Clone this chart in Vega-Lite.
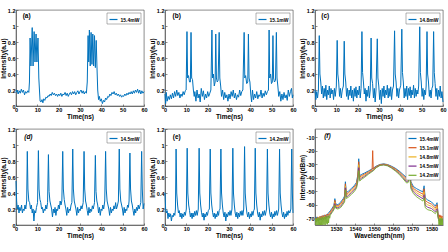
{
"$schema":"https://vega.github.io/schema/vega-lite/v6.json",
"background":"white",
"padding":{"left":0,"top":7,"right":0,"bottom":0},
"columns":3,
"spacing":{"row":5,"column":1},
"resolve":{"scale":{"color":"independent","x":"independent","y":"independent"},"legend":{"color":"independent"}},
"config":{
 "font":"Liberation Sans",
 "view":{"stroke":"#404040","strokeWidth":0.6},
 "axis":{"grid":false,"labelFont":"Liberation Sans","labelFontSize":5.5,"labelFontWeight":"bold","labelColor":"#000","titleFont":"Liberation Sans","titleFontSize":6.5,"titleFontWeight":"bold","titleColor":"#000","domainColor":"#404040","domainWidth":0.6,"tickColor":"#404040","tickWidth":0.6,"tickSize":-2,"labelPadding":3,"titlePadding":1,"labelFlush":false,"labelOverlap":false},
 "legend":{"orient":"top-right","offset":3,"padding":1.5,"strokeColor":"#666","strokeWidth":0.5,"fillColor":"#fff","labelFont":"Liberation Sans","labelFontSize":5,"labelFontWeight":"bold","labelColor":"#000","symbolType":"stroke","symbolStrokeWidth":1.2,"symbolSize":64,"rowPadding":1.2,"labelOffset":2,"labelLimit":100},
 "text":{"color":"#000"}
},
"concat":[
 {"width":128,"height":96,
  "encoding":{
   "x":{"field":"t","type":"quantitative","scale":{"domain":[0,60],"nice":false},"axis":{"values":[0,10,20,30,40,50,60],"title":"Time(ns)"}},
   "y":{"field":"v","type":"quantitative","scale":{"domain":[0,1.2],"nice":false},"axis":{"values":[0,0.2,0.4,0.6,0.8,1,1.2],"format":"~g","title":"Intensity(a.u)"}}},
  "layer":[
  {"data":{"name":"a"},"mark":{"type":"line","strokeWidth":1},"encoding":{"color":{"datum":"15.4mW","scale":{"range":["#0072BD"]},"legend":{"title":null}}}},
  {"data":{"values":[{"t":5,"v":1.13,"label":"(a)"}]},"mark":{"type":"text","fontWeight":"bold","fontSize":6.5},"encoding":{"text":{"field":"label"}}}
 ]},
 {"width":128,"height":96,
  "encoding":{
   "x":{"field":"t","type":"quantitative","scale":{"domain":[0,60],"nice":false},"axis":{"values":[0,10,20,30,40,50,60],"title":"Time(ns)"}},
   "y":{"field":"v","type":"quantitative","scale":{"domain":[0,1.2],"nice":false},"axis":{"values":[0,0.2,0.4,0.6,0.8,1,1.2],"format":"~g","title":"Intensity(a.u)"}}},
  "layer":[
  {"data":{"name":"b"},"mark":{"type":"line","strokeWidth":1},"encoding":{"color":{"datum":"15.1mW","scale":{"range":["#0072BD"]},"legend":{"title":null}}}},
  {"data":{"values":[{"t":5.5,"v":1.13,"label":"(b)"}]},"mark":{"type":"text","fontWeight":"bold","fontSize":6.5},"encoding":{"text":{"field":"label"}}}
 ]},
 {"width":128,"height":96,
  "encoding":{
   "x":{"field":"t","type":"quantitative","scale":{"domain":[0,60],"nice":false},"axis":{"values":[0,10,20,30,40,50,60],"title":"Time(ns)"}},
   "y":{"field":"v","type":"quantitative","scale":{"domain":[0,1.2],"nice":false},"axis":{"values":[0,0.2,0.4,0.6,0.8,1,1.2],"format":"~g","title":"Intensity(a.u)"}}},
  "layer":[
  {"data":{"name":"c"},"mark":{"type":"line","strokeWidth":1},"encoding":{"color":{"datum":"14.8mW","scale":{"range":["#0072BD"]},"legend":{"title":null}}}},
  {"data":{"values":[{"t":4.8,"v":1.13,"label":"(c)"}]},"mark":{"type":"text","fontWeight":"bold","fontSize":6.5},"encoding":{"text":{"field":"label"}}}
 ]},
 {"width":128,"height":96,
  "encoding":{
   "x":{"field":"t","type":"quantitative","scale":{"domain":[0,60],"nice":false},"axis":{"values":[0,10,20,30,40,50,60],"title":"Time(ns)"}},
   "y":{"field":"v","type":"quantitative","scale":{"domain":[0,1.2],"nice":false},"axis":{"values":[0,0.2,0.4,0.6,0.8,1,1.2],"format":"~g","title":"Intensity(a.u)"}}},
  "layer":[
  {"data":{"name":"d"},"mark":{"type":"line","strokeWidth":1},"encoding":{"color":{"datum":"14.5mW","scale":{"range":["#0072BD"]},"legend":{"title":null}}}},
  {"data":{"values":[{"t":5.8,"v":1.1,"label":"(d)"}]},"mark":{"type":"text","fontWeight":"bold","fontStyle":"italic","fontSize":6.5},"encoding":{"text":{"field":"label"}}}
 ]},
 {"width":128,"height":96,
  "encoding":{
   "x":{"field":"t","type":"quantitative","scale":{"domain":[0,60],"nice":false},"axis":{"values":[0,10,20,30,40,50,60],"title":"Time(ns)"}},
   "y":{"field":"v","type":"quantitative","scale":{"domain":[0,1.2],"nice":false},"axis":{"values":[0,0.2,0.4,0.6,0.8,1,1.2],"format":"~g","title":"Intensity(a.u)"}}},
  "layer":[
  {"data":{"name":"e"},"mark":{"type":"line","strokeWidth":1},"encoding":{"color":{"datum":"14.2mW","scale":{"range":["#0072BD"]},"legend":{"title":null}}}},
  {"data":{"values":[{"t":5.5,"v":1.1,"label":"(e)"}]},"mark":{"type":"text","fontWeight":"bold","fontSize":6.5},"encoding":{"text":{"field":"label"}}}
 ]},
 {"width":128,"height":96,
  "encoding":{
   "x":{"field":"w","type":"quantitative","scale":{"domain":[1519,1586],"nice":false,"zero":false},"axis":{"values":[1530,1540,1550,1560,1570,1580],"format":"d","title":"Wavelength(nm)"}},
   "y":{"field":"p","type":"quantitative","scale":{"domain":[-75,-4],"nice":false,"zero":false},"axis":{"values":[-70,-60,-50,-40,-30,-20,-10],"labelExpr":"datum.value + ''","title":"Intensity(dBm)"}}},
  "layer":[
  {"data":{"name":"f"},"mark":{"type":"line","strokeWidth":0.9,"clip":true},"encoding":{
   "color":{"field":"s","type":"nominal","sort":null,"scale":{"domain":["15.4mW","15.1mW","14.8mW","14.5mW","14.2mW"],"range":["#0072BD","#D95319","#EDB120","#7E2F8E","#77AC30"]},"legend":{"title":null}}}},
  {"data":{"values":[{"w":1525.5,"p":-9,"label":"(f)"}]},"mark":{"type":"text","fontWeight":"bold","fontStyle":"italic","fontSize":6.5},"encoding":{"text":{"field":"label"}}}
 ]}
],
"datasets":{
"a":[{"t":0,"v":0.17},{"t":0.5,"v":0.2},{"t":1,"v":0.15},{"t":1.5,"v":0.19},{"t":2,"v":0.16},{"t":2.5,"v":0.21},{"t":3,"v":0.17},{"t":3.5,"v":0.2},{"t":4,"v":0.14},{"t":4.5,"v":0.18},{"t":5,"v":0.16},{"t":5.5,"v":0.19},{"t":6,"v":0.17},{"t":6.3,"v":0.3},{"t":6.6,"v":0.85},{"t":7.0,"v":0.5},{"t":7.6,"v":0.98},{"t":8.0,"v":0.5},{"t":8.5,"v":0.93},{"t":8.9,"v":0.55},{"t":9.4,"v":0.9},{"t":9.8,"v":0.55},{"t":10.3,"v":0.85},{"t":10.7,"v":0.35},{"t":11.0,"v":0.2},{"t":11.3,"v":0.06},{"t":11.7,"v":0.05},{"t":12.2,"v":0.08},{"t":12.6,"v":0.04},{"t":13,"v":0.09},{"t":13.5,"v":0.07},{"t":14,"v":0.11},{"t":14.5,"v":0.1},{"t":15,"v":0.13},{"t":15.5,"v":0.12},{"t":16,"v":0.15},{"t":16.5,"v":0.13},{"t":17,"v":0.17},{"t":17.5,"v":0.14},{"t":18,"v":0.16},{"t":18.5,"v":0.13},{"t":19,"v":0.15},{"t":19.5,"v":0.12},{"t":20,"v":0.15},{"t":20.5,"v":0.13},{"t":21,"v":0.16},{"t":21.5,"v":0.12},{"t":22,"v":0.15},{"t":22.5,"v":0.14},{"t":23,"v":0.17},{"t":23.5,"v":0.13},{"t":24,"v":0.16},{"t":24.5,"v":0.12},{"t":25,"v":0.15},{"t":25.5,"v":0.17},{"t":26,"v":0.14},{"t":26.5,"v":0.18},{"t":27,"v":0.15},{"t":27.5,"v":0.18},{"t":28,"v":0.14},{"t":28.5,"v":0.17},{"t":29,"v":0.19},{"t":29.5,"v":0.15},{"t":30,"v":0.18},{"t":30.5,"v":0.2},{"t":31,"v":0.16},{"t":31.5,"v":0.19},{"t":32,"v":0.15},{"t":32.5,"v":0.18},{"t":33,"v":0.16},{"t":33.4,"v":0.3},{"t":33.8,"v":0.88},{"t":34.1,"v":0.55},{"t":34.4,"v":0.95},{"t":34.8,"v":0.5},{"t":35.2,"v":0.92},{"t":35.6,"v":0.52},{"t":36.0,"v":0.9},{"t":36.4,"v":0.5},{"t":36.8,"v":0.88},{"t":37.2,"v":0.48},{"t":37.6,"v":0.82},{"t":38.0,"v":0.45},{"t":38.3,"v":0.2},{"t":38.7,"v":0.08},{"t":39.1,"v":0.12},{"t":39.5,"v":0.06},{"t":40,"v":0.09},{"t":40.5,"v":0.03},{"t":41,"v":0.07},{"t":41.5,"v":0.05},{"t":42,"v":0.1},{"t":42.5,"v":0.08},{"t":43,"v":0.12},{"t":43.5,"v":0.11},{"t":44,"v":0.15},{"t":44.5,"v":0.13},{"t":45,"v":0.17},{"t":45.5,"v":0.15},{"t":46,"v":0.18},{"t":46.5,"v":0.14},{"t":47,"v":0.16},{"t":47.5,"v":0.13},{"t":48,"v":0.15},{"t":48.5,"v":0.12},{"t":49,"v":0.14},{"t":49.5,"v":0.11},{"t":50,"v":0.13},{"t":50.5,"v":0.12},{"t":51,"v":0.15},{"t":51.5,"v":0.13},{"t":52,"v":0.16},{"t":52.5,"v":0.14},{"t":53,"v":0.17},{"t":53.5,"v":0.15},{"t":54,"v":0.18},{"t":54.5,"v":0.15},{"t":55,"v":0.19},{"t":55.5,"v":0.16},{"t":56,"v":0.2},{"t":56.5,"v":0.17},{"t":57,"v":0.21},{"t":57.5,"v":0.16},{"t":58,"v":0.2},{"t":58.5,"v":0.15},{"t":59,"v":0.19},{"t":59.5,"v":0.16},{"t":60,"v":0.18}],
"b":[{"t":0,"v":0.15},{"t":0.3,"v":0.03},{"t":0.6,"v":0.17},{"t":1.0,"v":0.06},{"t":1.5,"v":0.12},{"t":2,"v":0.08},{"t":2.5,"v":0.14},{"t":3,"v":0.09},{"t":3.5,"v":0.16},{"t":4,"v":0.1},{"t":4.5,"v":0.18},{"t":5,"v":0.12},{"t":5.5,"v":0.2},{"t":6,"v":0.13},{"t":6.5,"v":0.17},{"t":7,"v":0.1},{"t":7.5,"v":0.15},{"t":8,"v":0.12},{"t":8.5,"v":0.18},{"t":9,"v":0.14},{"t":9.5,"v":0.19},{"t":9.9,"v":0.2},{"t":10.3,"v":0.93},{"t":10.6,"v":0.35},{"t":11.0,"v":0.38},{"t":11.5,"v":0.3},{"t":11.9,"v":0.3},{"t":12.2,"v":0.92},{"t":12.5,"v":0.35},{"t":12.9,"v":0.33},{"t":13.3,"v":0.2},{"t":13.7,"v":0.12},{"t":14,"v":0.18},{"t":14.5,"v":0.06},{"t":15,"v":0.2},{"t":15.5,"v":0.1},{"t":16,"v":0.15},{"t":16.5,"v":0.05},{"t":17,"v":0.22},{"t":17.5,"v":0.12},{"t":18,"v":0.19},{"t":18.5,"v":0.08},{"t":19,"v":0.15},{"t":19.5,"v":0.1},{"t":20,"v":0.18},{"t":20.5,"v":0.12},{"t":21,"v":0.16},{"t":21.5,"v":0.2},{"t":22.0,"v":0.95},{"t":22.3,"v":0.35},{"t":22.7,"v":0.4},{"t":23.1,"v":0.25},{"t":23.5,"v":0.3},{"t":23.8,"v":0.9},{"t":24.1,"v":0.35},{"t":24.5,"v":0.3},{"t":24.9,"v":0.32},{"t":25.4,"v":0.92},{"t":25.7,"v":0.35},{"t":26.1,"v":0.25},{"t":26.5,"v":0.12},{"t":27,"v":0.2},{"t":27.5,"v":0.08},{"t":28,"v":0.17},{"t":28.5,"v":0.1},{"t":29,"v":0.14},{"t":29.5,"v":0.06},{"t":30,"v":0.15},{"t":30.5,"v":0.09},{"t":31,"v":0.18},{"t":31.5,"v":0.12},{"t":32,"v":0.2},{"t":32.5,"v":0.1},{"t":33,"v":0.16},{"t":33.5,"v":0.08},{"t":34,"v":0.14},{"t":34.5,"v":0.11},{"t":35,"v":0.2},{"t":35.5,"v":0.13},{"t":36,"v":0.18},{"t":36.5,"v":0.2},{"t":37.1,"v":0.92},{"t":37.4,"v":0.35},{"t":37.8,"v":0.38},{"t":38.3,"v":0.28},{"t":38.8,"v":0.3},{"t":39.1,"v":0.9},{"t":39.4,"v":0.35},{"t":39.8,"v":0.3},{"t":40.2,"v":0.15},{"t":40.6,"v":0.05},{"t":41,"v":0.2},{"t":41.5,"v":0.08},{"t":42,"v":0.15},{"t":42.5,"v":0.1},{"t":43,"v":0.18},{"t":43.5,"v":0.09},{"t":44,"v":0.14},{"t":44.5,"v":0.12},{"t":45,"v":0.2},{"t":45.5,"v":0.1},{"t":46,"v":0.16},{"t":46.5,"v":0.12},{"t":47,"v":0.19},{"t":47.5,"v":0.14},{"t":48,"v":0.18},{"t":48.5,"v":0.2},{"t":48.8,"v":0.95},{"t":49.1,"v":0.35},{"t":49.5,"v":0.4},{"t":49.9,"v":0.28},{"t":50.3,"v":0.3},{"t":50.6,"v":0.88},{"t":50.9,"v":0.35},{"t":51.3,"v":0.3},{"t":51.8,"v":0.32},{"t":52.2,"v":0.92},{"t":52.5,"v":0.35},{"t":52.9,"v":0.25},{"t":53.3,"v":0.12},{"t":53.8,"v":0.18},{"t":54.3,"v":0.06},{"t":54.8,"v":0.15},{"t":55.3,"v":0.08},{"t":55.8,"v":0.17},{"t":56.3,"v":0.1},{"t":56.8,"v":0.14},{"t":57.3,"v":0.07},{"t":57.8,"v":0.2},{"t":58.3,"v":0.12},{"t":58.8,"v":0.18},{"t":59.3,"v":0.22},{"t":59.7,"v":0.1},{"t":60,"v":0.14}],
"c":[{"t":0,"v":0.2},{"t":0.4,"v":0.08},{"t":0.8,"v":0.18},{"t":1.2,"v":0.1},{"t":1.6,"v":0.2},{"t":2.0,"v":0.88},{"t":2.3,"v":0.4},{"t":2.7,"v":0.3},{"t":3.1,"v":0.15},{"t":3.5,"v":0.25},{"t":3.9,"v":0.1},{"t":4.3,"v":0.22},{"t":4.7,"v":0.12},{"t":5.1,"v":0.26},{"t":5.5,"v":0.08},{"t":5.9,"v":0.2},{"t":6.3,"v":0.14},{"t":6.7,"v":0.25},{"t":7.1,"v":0.1},{"t":7.5,"v":0.22},{"t":7.9,"v":0.15},{"t":8.3,"v":0.2},{"t":8.7,"v":0.08},{"t":9.1,"v":0.22},{"t":9.5,"v":0.12},{"t":10.0,"v":0.25},{"t":10.4,"v":0.82},{"t":10.7,"v":0.4},{"t":11.1,"v":0.3},{"t":11.5,"v":0.12},{"t":11.9,"v":0.22},{"t":12.3,"v":0.1},{"t":12.8,"v":0.2},{"t":13.3,"v":0.25},{"t":13.7,"v":0.81},{"t":14.0,"v":0.4},{"t":14.4,"v":0.3},{"t":14.8,"v":0.12},{"t":15.2,"v":0.22},{"t":15.6,"v":0.08},{"t":16.0,"v":0.2},{"t":16.4,"v":0.13},{"t":16.8,"v":0.25},{"t":17.2,"v":0.1},{"t":17.6,"v":0.2},{"t":18.0,"v":0.06},{"t":18.4,"v":0.22},{"t":18.8,"v":0.12},{"t":19.2,"v":0.24},{"t":19.6,"v":0.1},{"t":20.0,"v":0.2},{"t":20.4,"v":0.14},{"t":20.8,"v":0.25},{"t":21.2,"v":0.1},{"t":21.6,"v":0.22},{"t":22.0,"v":0.93},{"t":22.3,"v":0.42},{"t":22.7,"v":0.3},{"t":23.1,"v":0.15},{"t":23.5,"v":0.22},{"t":23.9,"v":0.06},{"t":24.3,"v":0.2},{"t":24.7,"v":0.12},{"t":25.1,"v":0.25},{"t":25.5,"v":0.1},{"t":25.9,"v":0.2},{"t":26.3,"v":0.85},{"t":26.6,"v":0.35},{"t":27.0,"v":0.28},{"t":27.4,"v":0.1},{"t":27.8,"v":0.22},{"t":28.2,"v":0.05},{"t":28.6,"v":0.2},{"t":29.2,"v":0.84},{"t":29.5,"v":0.35},{"t":29.9,"v":0.25},{"t":30.3,"v":0.08},{"t":30.7,"v":0.2},{"t":31.1,"v":0.03},{"t":31.5,"v":0.22},{"t":31.9,"v":0.12},{"t":32.3,"v":0.25},{"t":32.7,"v":0.1},{"t":33.1,"v":0.2},{"t":33.5,"v":0.14},{"t":33.9,"v":0.26},{"t":34.3,"v":0.1},{"t":34.7,"v":0.22},{"t":35.1,"v":0.12},{"t":35.5,"v":0.24},{"t":35.9,"v":0.08},{"t":36.3,"v":0.2},{"t":36.8,"v":0.25},{"t":37.3,"v":0.94},{"t":37.6,"v":0.4},{"t":38.0,"v":0.3},{"t":38.4,"v":0.12},{"t":38.8,"v":0.22},{"t":39.2,"v":0.1},{"t":39.6,"v":0.2},{"t":40.2,"v":0.26},{"t":40.7,"v":0.96},{"t":41.0,"v":0.42},{"t":41.4,"v":0.3},{"t":41.8,"v":0.1},{"t":42.2,"v":0.22},{"t":42.6,"v":0.12},{"t":43.0,"v":0.25},{"t":43.4,"v":0.08},{"t":43.8,"v":0.22},{"t":44.2,"v":0.13},{"t":44.6,"v":0.24},{"t":45.0,"v":0.1},{"t":45.4,"v":0.2},{"t":45.8,"v":0.14},{"t":46.2,"v":0.26},{"t":46.6,"v":0.1},{"t":47.0,"v":0.22},{"t":47.4,"v":0.12},{"t":47.8,"v":0.2},{"t":48.2,"v":0.15},{"t":48.6,"v":0.25},{"t":49.1,"v":0.99},{"t":49.4,"v":0.42},{"t":49.8,"v":0.3},{"t":50.2,"v":0.12},{"t":50.6,"v":0.22},{"t":51.0,"v":0.08},{"t":51.4,"v":0.2},{"t":51.8,"v":0.14},{"t":52.1,"v":0.25},{"t":52.5,"v":0.93},{"t":52.8,"v":0.4},{"t":53.2,"v":0.3},{"t":53.6,"v":0.12},{"t":54.0,"v":0.2},{"t":54.4,"v":0.1},{"t":54.8,"v":0.22},{"t":55.2,"v":0.25},{"t":55.6,"v":0.93},{"t":55.9,"v":0.42},{"t":56.3,"v":0.28},{"t":56.7,"v":0.12},{"t":57.1,"v":0.22},{"t":57.5,"v":0.08},{"t":57.9,"v":0.2},{"t":58.3,"v":0.12},{"t":58.7,"v":0.25},{"t":59.1,"v":0.1},{"t":59.5,"v":0.18},{"t":60,"v":0.05}],
"d":[{"t":0,"v":0.55},{"t":0.3,"v":0.3},{"t":0.6,"v":0.2},{"t":1.0,"v":0.25},{"t":1.4,"v":0.15},{"t":1.8,"v":0.22},{"t":2.2,"v":0.18},{"t":2.6,"v":0.25},{"t":3.0,"v":0.15},{"t":3.4,"v":0.2},{"t":3.8,"v":0.18},{"t":4.2,"v":0.25},{"t":4.6,"v":0.2},{"t":5.0,"v":0.3},{"t":5.3,"v":0.92},{"t":5.6,"v":0.45},{"t":6.0,"v":0.3},{"t":6.4,"v":0.28},{"t":6.8,"v":0.2},{"t":7.2,"v":0.25},{"t":7.6,"v":0.15},{"t":8.0,"v":0.2},{"t":8.4,"v":0.05},{"t":8.8,"v":0.18},{"t":9.2,"v":0.15},{"t":9.6,"v":0.22},{"t":10.1,"v":0.28},{"t":10.5,"v":0.93},{"t":10.8,"v":0.45},{"t":11.2,"v":0.32},{"t":11.6,"v":0.28},{"t":12.0,"v":0.2},{"t":12.4,"v":0.22},{"t":12.8,"v":0.15},{"t":13.2,"v":0.2},{"t":13.6,"v":0.18},{"t":14.0,"v":0.25},{"t":14.4,"v":0.2},{"t":14.8,"v":0.28},{"t":15.2,"v":0.88},{"t":15.5,"v":0.42},{"t":15.9,"v":0.3},{"t":16.3,"v":0.25},{"t":16.7,"v":0.2},{"t":17.1,"v":0.1},{"t":17.5,"v":0.2},{"t":17.9,"v":0.15},{"t":18.3,"v":0.22},{"t":18.7,"v":0.12},{"t":19.1,"v":0.2},{"t":19.5,"v":0.18},{"t":19.9,"v":0.25},{"t":20.3,"v":0.2},{"t":20.7,"v":0.3},{"t":21.1,"v":0.25},{"t":21.5,"v":0.3},{"t":21.9,"v":0.92},{"t":22.2,"v":0.45},{"t":22.6,"v":0.32},{"t":23.0,"v":0.25},{"t":23.4,"v":0.2},{"t":23.8,"v":0.12},{"t":24.2,"v":0.22},{"t":24.6,"v":0.15},{"t":25.0,"v":0.2},{"t":25.4,"v":0.18},{"t":25.8,"v":0.25},{"t":26.2,"v":0.28},{"t":26.6,"v":0.95},{"t":26.9,"v":0.45},{"t":27.3,"v":0.3},{"t":27.7,"v":0.25},{"t":28.1,"v":0.2},{"t":28.5,"v":0.12},{"t":28.9,"v":0.22},{"t":29.3,"v":0.15},{"t":29.7,"v":0.2},{"t":30.1,"v":0.18},{"t":30.5,"v":0.24},{"t":30.9,"v":0.2},{"t":31.5,"v":0.28},{"t":31.9,"v":0.92},{"t":32.2,"v":0.45},{"t":32.6,"v":0.3},{"t":33.0,"v":0.25},{"t":33.4,"v":0.18},{"t":33.8,"v":0.12},{"t":34.2,"v":0.22},{"t":34.6,"v":0.15},{"t":35.0,"v":0.2},{"t":35.4,"v":0.17},{"t":35.8,"v":0.24},{"t":36.2,"v":0.2},{"t":36.8,"v":0.28},{"t":37.2,"v":0.87},{"t":37.5,"v":0.42},{"t":37.9,"v":0.3},{"t":38.3,"v":0.25},{"t":38.7,"v":0.15},{"t":39.1,"v":0.22},{"t":39.5,"v":0.12},{"t":39.9,"v":0.2},{"t":40.3,"v":0.18},{"t":40.7,"v":0.25},{"t":41.1,"v":0.2},{"t":41.6,"v":0.3},{"t":42.0,"v":0.92},{"t":42.3,"v":0.45},{"t":42.7,"v":0.3},{"t":43.1,"v":0.25},{"t":43.5,"v":0.2},{"t":43.9,"v":0.12},{"t":44.3,"v":0.22},{"t":44.7,"v":0.15},{"t":45.1,"v":0.2},{"t":45.5,"v":0.18},{"t":45.9,"v":0.24},{"t":46.3,"v":0.2},{"t":46.7,"v":0.28},{"t":47.1,"v":0.2},{"t":47.6,"v":0.25},{"t":48.0,"v":0.3},{"t":48.4,"v":0.95},{"t":48.7,"v":0.45},{"t":49.1,"v":0.3},{"t":49.5,"v":0.25},{"t":49.9,"v":0.2},{"t":50.3,"v":0.12},{"t":50.7,"v":0.22},{"t":51.1,"v":0.15},{"t":51.5,"v":0.2},{"t":51.9,"v":0.18},{"t":52.3,"v":0.25},{"t":52.7,"v":0.22},{"t":53.0,"v":0.3},{"t":53.4,"v":0.9},{"t":53.7,"v":0.45},{"t":54.1,"v":0.3},{"t":54.5,"v":0.25},{"t":54.9,"v":0.18},{"t":55.3,"v":0.12},{"t":55.7,"v":0.2},{"t":56.1,"v":0.15},{"t":56.5,"v":0.22},{"t":56.9,"v":0.18},{"t":57.3,"v":0.25},{"t":57.7,"v":0.2},{"t":58.5,"v":0.28},{"t":58.9,"v":0.92},{"t":59.2,"v":0.45},{"t":59.6,"v":0.2},{"t":60,"v":0.27}],
"e":[{"t":0,"v":0.4},{"t":0.3,"v":0.2},{"t":0.6,"v":0.15},{"t":1.0,"v":0.18},{"t":1.4,"v":0.08},{"t":1.8,"v":0.15},{"t":2.2,"v":0.1},{"t":2.6,"v":0.14},{"t":3.0,"v":0.05},{"t":3.4,"v":0.12},{"t":3.8,"v":0.1},{"t":4.2,"v":0.15},{"t":4.6,"v":0.12},{"t":4.9,"v":0.2},{"t":5.2,"v":0.95},{"t":5.5,"v":0.4},{"t":5.9,"v":0.25},{"t":6.3,"v":0.15},{"t":6.7,"v":0.18},{"t":7.1,"v":0.1},{"t":7.5,"v":0.15},{"t":7.9,"v":0.08},{"t":8.3,"v":0.14},{"t":8.7,"v":0.1},{"t":9.1,"v":0.16},{"t":9.5,"v":0.12},{"t":10.0,"v":0.2},{"t":10.4,"v":0.96},{"t":10.7,"v":0.4},{"t":11.1,"v":0.25},{"t":11.5,"v":0.18},{"t":11.9,"v":0.1},{"t":12.3,"v":0.15},{"t":12.7,"v":0.08},{"t":13.1,"v":0.15},{"t":13.5,"v":0.1},{"t":13.9,"v":0.17},{"t":14.3,"v":0.12},{"t":14.7,"v":0.18},{"t":15.1,"v":0.12},{"t":15.6,"v":0.2},{"t":16.0,"v":0.96},{"t":16.3,"v":0.4},{"t":16.7,"v":0.25},{"t":17.1,"v":0.16},{"t":17.5,"v":0.1},{"t":17.9,"v":0.15},{"t":18.3,"v":0.06},{"t":18.7,"v":0.14},{"t":19.1,"v":0.1},{"t":19.5,"v":0.16},{"t":19.9,"v":0.12},{"t":20.3,"v":0.18},{"t":20.8,"v":0.2},{"t":21.2,"v":0.95},{"t":21.5,"v":0.4},{"t":21.9,"v":0.25},{"t":22.3,"v":0.16},{"t":22.7,"v":0.1},{"t":23.1,"v":0.15},{"t":23.5,"v":0.08},{"t":23.9,"v":0.14},{"t":24.3,"v":0.1},{"t":24.7,"v":0.17},{"t":25.1,"v":0.12},{"t":25.4,"v":0.18},{"t":25.8,"v":0.2},{"t":26.2,"v":0.95},{"t":26.5,"v":0.4},{"t":26.9,"v":0.25},{"t":27.3,"v":0.15},{"t":27.7,"v":0.1},{"t":28.1,"v":0.16},{"t":28.5,"v":0.05},{"t":28.9,"v":0.14},{"t":29.3,"v":0.1},{"t":29.7,"v":0.16},{"t":30.1,"v":0.12},{"t":30.5,"v":0.18},{"t":30.9,"v":0.12},{"t":31.4,"v":0.2},{"t":31.8,"v":0.96},{"t":32.1,"v":0.4},{"t":32.5,"v":0.25},{"t":32.9,"v":0.15},{"t":33.3,"v":0.1},{"t":33.7,"v":0.16},{"t":34.1,"v":0.08},{"t":34.5,"v":0.15},{"t":34.9,"v":0.1},{"t":35.3,"v":0.17},{"t":35.7,"v":0.12},{"t":36.1,"v":0.18},{"t":36.5,"v":0.12},{"t":36.9,"v":0.2},{"t":37.3,"v":0.98},{"t":37.6,"v":0.4},{"t":38.0,"v":0.25},{"t":38.4,"v":0.15},{"t":38.8,"v":0.1},{"t":39.2,"v":0.16},{"t":39.6,"v":0.08},{"t":40.0,"v":0.14},{"t":40.4,"v":0.1},{"t":40.8,"v":0.17},{"t":41.2,"v":0.12},{"t":41.6,"v":0.18},{"t":41.9,"v":0.2},{"t":42.3,"v":0.96},{"t":42.6,"v":0.4},{"t":43.0,"v":0.25},{"t":43.4,"v":0.15},{"t":43.8,"v":0.1},{"t":44.2,"v":0.16},{"t":44.6,"v":0.06},{"t":45.0,"v":0.14},{"t":45.4,"v":0.1},{"t":45.8,"v":0.17},{"t":46.2,"v":0.12},{"t":46.6,"v":0.18},{"t":47.0,"v":0.12},{"t":47.6,"v":0.2},{"t":48.0,"v":0.95},{"t":48.3,"v":0.4},{"t":48.7,"v":0.25},{"t":49.1,"v":0.15},{"t":49.5,"v":0.1},{"t":49.9,"v":0.16},{"t":50.3,"v":0.08},{"t":50.7,"v":0.14},{"t":51.1,"v":0.1},{"t":51.5,"v":0.17},{"t":51.9,"v":0.12},{"t":52.3,"v":0.18},{"t":52.7,"v":0.12},{"t":53.3,"v":0.2},{"t":53.7,"v":0.95},{"t":54.0,"v":0.4},{"t":54.4,"v":0.25},{"t":54.8,"v":0.15},{"t":55.2,"v":0.1},{"t":55.6,"v":0.16},{"t":56.0,"v":0.08},{"t":56.4,"v":0.14},{"t":56.8,"v":0.1},{"t":57.2,"v":0.17},{"t":57.6,"v":0.12},{"t":58.0,"v":0.18},{"t":58.5,"v":0.15},{"t":59.0,"v":0.2},{"t":59.4,"v":0.95},{"t":59.7,"v":0.4},{"t":60,"v":0.15}],
"f":[
{"s":"15.4mW","w":1519.2,"p":-70},{"s":"15.4mW","w":1519.8,"p":-69},{"s":"15.4mW","w":1520.4,"p":-71},{"s":"15.4mW","w":1521.0,"p":-69.5},{"s":"15.4mW","w":1521.6,"p":-70.5},{"s":"15.4mW","w":1522.2,"p":-68.5},{"s":"15.4mW","w":1522.8,"p":-70},{"s":"15.4mW","w":1523.4,"p":-68},{"s":"15.4mW","w":1524.0,"p":-69},{"s":"15.4mW","w":1524.6,"p":-67.5},{"s":"15.4mW","w":1525.2,"p":-68.5},{"s":"15.4mW","w":1525.8,"p":-66.5},{"s":"15.4mW","w":1526.4,"p":-65.5},
{"s":"15.4mW","w":1527.0,"p":-64.5},{"s":"15.4mW","w":1528.0,"p":-62.5},{"s":"15.4mW","w":1528.9,"p":-60.5},{"s":"15.4mW","w":1529.4,"p":-55.5},{"s":"15.4mW","w":1529.9,"p":-59.5},{"s":"15.4mW","w":1531.0,"p":-60},{"s":"15.4mW","w":1532.5,"p":-58},{"s":"15.4mW","w":1533.8,"p":-55.5},{"s":"15.4mW","w":1534.5,"p":-53.5},{"s":"15.4mW","w":1534.9,"p":-43},{"s":"15.4mW","w":1535.4,"p":-51},{"s":"15.4mW","w":1536.5,"p":-50},{"s":"15.4mW","w":1538.0,"p":-48},{"s":"15.4mW","w":1539.5,"p":-46},{"s":"15.4mW","w":1540.7,"p":-43.5},{"s":"15.4mW","w":1541.4,"p":-38},{"s":"15.4mW","w":1541.9,"p":-26},{"s":"15.4mW","w":1542.4,"p":-38.5},{"s":"15.4mW","w":1543.5,"p":-37.5},{"s":"15.4mW","w":1545.0,"p":-36.5},{"s":"15.4mW","w":1547.0,"p":-35},{"s":"15.4mW","w":1548.9,"p":-33.5},{"s":"15.4mW","w":1549.5,"p":-33},{"s":"15.4mW","w":1551.0,"p":-31.5},{"s":"15.4mW","w":1553.0,"p":-30.2},{"s":"15.4mW","w":1555.0,"p":-29.8},{"s":"15.4mW","w":1557.0,"p":-30.3},{"s":"15.4mW","w":1559.0,"p":-31.5},{"s":"15.4mW","w":1561.0,"p":-33},{"s":"15.4mW","w":1563.0,"p":-35},{"s":"15.4mW","w":1565.0,"p":-37.5},{"s":"15.4mW","w":1567.0,"p":-40},{"s":"15.4mW","w":1567.9,"p":-39},{"s":"15.4mW","w":1568.6,"p":-33},{"s":"15.4mW","w":1569.2,"p":-43},{"s":"15.4mW","w":1570.5,"p":-46.5},{"s":"15.4mW","w":1572.0,"p":-48},{"s":"15.4mW","w":1574.0,"p":-49.5},{"s":"15.4mW","w":1575.5,"p":-50.5},{"s":"15.4mW","w":1576.1,"p":-46},{"s":"15.4mW","w":1576.7,"p":-55},{"s":"15.4mW","w":1578.0,"p":-56.5},{"s":"15.4mW","w":1580.0,"p":-58},{"s":"15.4mW","w":1582.0,"p":-61},{"s":"15.4mW","w":1582.9,"p":-58.5},{"s":"15.4mW","w":1583.4,"p":-66},
{"s":"15.4mW","w":1583.7,"p":-69},{"s":"15.4mW","w":1584.0,"p":-70.5},{"s":"15.4mW","w":1584.3,"p":-68.5},{"s":"15.4mW","w":1584.6,"p":-71},{"s":"15.4mW","w":1584.9,"p":-69.5},{"s":"15.4mW","w":1585.2,"p":-71},{"s":"15.4mW","w":1585.5,"p":-70},{"s":"15.4mW","w":1585.8,"p":-71.5},
{"s":"15.1mW","w":1519.2,"p":-69.5},{"s":"15.1mW","w":1519.8,"p":-71},{"s":"15.1mW","w":1520.4,"p":-69},{"s":"15.1mW","w":1521.0,"p":-70.5},{"s":"15.1mW","w":1521.6,"p":-68.5},{"s":"15.1mW","w":1522.2,"p":-70},{"s":"15.1mW","w":1522.8,"p":-68},{"s":"15.1mW","w":1523.4,"p":-69.5},{"s":"15.1mW","w":1524.0,"p":-67.5},{"s":"15.1mW","w":1524.6,"p":-69},{"s":"15.1mW","w":1525.2,"p":-67},{"s":"15.1mW","w":1525.8,"p":-68},{"s":"15.1mW","w":1526.4,"p":-66.5},
{"s":"15.1mW","w":1527.0,"p":-65.3},{"s":"15.1mW","w":1528.0,"p":-63.3},{"s":"15.1mW","w":1528.9,"p":-61.3},{"s":"15.1mW","w":1529.4,"p":-56.7},{"s":"15.1mW","w":1529.9,"p":-60.3},{"s":"15.1mW","w":1531.0,"p":-60.8},{"s":"15.1mW","w":1532.5,"p":-59},{"s":"15.1mW","w":1533.8,"p":-56.5},{"s":"15.1mW","w":1534.5,"p":-54.6},{"s":"15.1mW","w":1534.9,"p":-44.5},{"s":"15.1mW","w":1535.4,"p":-52.1},{"s":"15.1mW","w":1536.5,"p":-51.1},{"s":"15.1mW","w":1538.0,"p":-49.1},{"s":"15.1mW","w":1539.5,"p":-47.1},{"s":"15.1mW","w":1540.7,"p":-44.6},{"s":"15.1mW","w":1541.4,"p":-39.3},{"s":"15.1mW","w":1541.9,"p":-28.2},{"s":"15.1mW","w":1542.4,"p":-39.5},{"s":"15.1mW","w":1543.5,"p":-38.4},{"s":"15.1mW","w":1545.0,"p":-37.3},{"s":"15.1mW","w":1547.0,"p":-35.6},{"s":"15.1mW","w":1548.9,"p":-34},{"s":"15.1mW","w":1549.2,"p":-20},{"s":"15.1mW","w":1549.5,"p":-33.5},{"s":"15.1mW","w":1551.0,"p":-31.8},{"s":"15.1mW","w":1553.0,"p":-30.4},{"s":"15.1mW","w":1555.0,"p":-30},{"s":"15.1mW","w":1557.0,"p":-30.55},{"s":"15.1mW","w":1559.0,"p":-31.85},{"s":"15.1mW","w":1561.0,"p":-33.5},{"s":"15.1mW","w":1563.0,"p":-35.6},{"s":"15.1mW","w":1565.0,"p":-38.3},{"s":"15.1mW","w":1567.0,"p":-41},{"s":"15.1mW","w":1567.9,"p":-40.1},{"s":"15.1mW","w":1568.6,"p":-34.3},{"s":"15.1mW","w":1569.2,"p":-44.3},{"s":"15.1mW","w":1570.5,"p":-47.8},{"s":"15.1mW","w":1572.0,"p":-49.5},{"s":"15.1mW","w":1574.0,"p":-51.1},{"s":"15.1mW","w":1575.5,"p":-52.2},{"s":"15.1mW","w":1576.1,"p":-48.2},{"s":"15.1mW","w":1576.7,"p":-56.8},{"s":"15.1mW","w":1578.0,"p":-58.3},{"s":"15.1mW","w":1580.0,"p":-59.6},{"s":"15.1mW","w":1582.0,"p":-62.4},{"s":"15.1mW","w":1582.9,"p":-60},{"s":"15.1mW","w":1583.4,"p":-67},
{"s":"15.1mW","w":1583.7,"p":-68},{"s":"15.1mW","w":1584.0,"p":-70},{"s":"15.1mW","w":1584.3,"p":-67.5},{"s":"15.1mW","w":1584.6,"p":-69.5},{"s":"15.1mW","w":1584.9,"p":-68},{"s":"15.1mW","w":1585.2,"p":-70},{"s":"15.1mW","w":1585.5,"p":-68.5},{"s":"15.1mW","w":1585.8,"p":-69.5},
{"s":"14.8mW","w":1519.2,"p":-70.5},{"s":"14.8mW","w":1519.8,"p":-72},{"s":"14.8mW","w":1520.4,"p":-70},{"s":"14.8mW","w":1521.0,"p":-71.5},{"s":"14.8mW","w":1521.6,"p":-69.5},{"s":"14.8mW","w":1522.2,"p":-71},{"s":"14.8mW","w":1522.8,"p":-69},{"s":"14.8mW","w":1523.4,"p":-70.5},{"s":"14.8mW","w":1524.0,"p":-68.5},{"s":"14.8mW","w":1524.6,"p":-70},{"s":"14.8mW","w":1525.2,"p":-68},{"s":"14.8mW","w":1525.8,"p":-69},{"s":"14.8mW","w":1526.4,"p":-67.5},
{"s":"14.8mW","w":1527.0,"p":-66.1},{"s":"14.8mW","w":1528.0,"p":-64.1},{"s":"14.8mW","w":1528.9,"p":-62.1},{"s":"14.8mW","w":1529.4,"p":-57.9},{"s":"14.8mW","w":1529.9,"p":-61.1},{"s":"14.8mW","w":1531.0,"p":-61.6},{"s":"14.8mW","w":1532.5,"p":-60},{"s":"14.8mW","w":1533.8,"p":-57.5},{"s":"14.8mW","w":1534.5,"p":-55.7},{"s":"14.8mW","w":1534.9,"p":-46},{"s":"14.8mW","w":1535.4,"p":-53.2},{"s":"14.8mW","w":1536.5,"p":-52.2},{"s":"14.8mW","w":1538.0,"p":-50.2},{"s":"14.8mW","w":1539.5,"p":-48.2},{"s":"14.8mW","w":1540.7,"p":-45.7},{"s":"14.8mW","w":1541.4,"p":-40.6},{"s":"14.8mW","w":1541.9,"p":-30.4},{"s":"14.8mW","w":1542.4,"p":-40.5},{"s":"14.8mW","w":1543.5,"p":-39.3},{"s":"14.8mW","w":1545.0,"p":-38.1},{"s":"14.8mW","w":1547.0,"p":-36.2},{"s":"14.8mW","w":1548.9,"p":-34.5},{"s":"14.8mW","w":1549.5,"p":-34},{"s":"14.8mW","w":1551.0,"p":-32.1},{"s":"14.8mW","w":1553.0,"p":-30.6},{"s":"14.8mW","w":1555.0,"p":-30.2},{"s":"14.8mW","w":1557.0,"p":-30.8},{"s":"14.8mW","w":1559.0,"p":-32.2},{"s":"14.8mW","w":1561.0,"p":-34},{"s":"14.8mW","w":1563.0,"p":-36.2},{"s":"14.8mW","w":1565.0,"p":-39.1},{"s":"14.8mW","w":1567.0,"p":-42},{"s":"14.8mW","w":1567.9,"p":-41.2},{"s":"14.8mW","w":1568.6,"p":-35.6},{"s":"14.8mW","w":1569.2,"p":-45.6},{"s":"14.8mW","w":1570.5,"p":-49.1},{"s":"14.8mW","w":1572.0,"p":-51},{"s":"14.8mW","w":1574.0,"p":-52.7},{"s":"14.8mW","w":1575.5,"p":-53.9},{"s":"14.8mW","w":1576.1,"p":-50.4},{"s":"14.8mW","w":1576.7,"p":-58.6},{"s":"14.8mW","w":1578.0,"p":-60.1},{"s":"14.8mW","w":1580.0,"p":-61.2},{"s":"14.8mW","w":1582.0,"p":-63.8},{"s":"14.8mW","w":1582.9,"p":-61.5},{"s":"14.8mW","w":1583.4,"p":-68},
{"s":"14.8mW","w":1583.7,"p":-69.5},{"s":"14.8mW","w":1584.0,"p":-71},{"s":"14.8mW","w":1584.3,"p":-69},{"s":"14.8mW","w":1584.6,"p":-70.5},{"s":"14.8mW","w":1584.9,"p":-69.5},{"s":"14.8mW","w":1585.2,"p":-71.5},{"s":"14.8mW","w":1585.5,"p":-70},{"s":"14.8mW","w":1585.8,"p":-71},
{"s":"14.5mW","w":1519.2,"p":-71},{"s":"14.5mW","w":1519.8,"p":-72.5},{"s":"14.5mW","w":1520.4,"p":-70.5},{"s":"14.5mW","w":1521.0,"p":-72},{"s":"14.5mW","w":1521.6,"p":-70},{"s":"14.5mW","w":1522.2,"p":-71.5},{"s":"14.5mW","w":1522.8,"p":-69.5},{"s":"14.5mW","w":1523.4,"p":-71},{"s":"14.5mW","w":1524.0,"p":-69},{"s":"14.5mW","w":1524.6,"p":-70.5},{"s":"14.5mW","w":1525.2,"p":-68.5},{"s":"14.5mW","w":1525.8,"p":-69.5},{"s":"14.5mW","w":1526.4,"p":-68},
{"s":"14.5mW","w":1527.0,"p":-66.9},{"s":"14.5mW","w":1528.0,"p":-64.9},{"s":"14.5mW","w":1528.9,"p":-62.9},{"s":"14.5mW","w":1529.4,"p":-59.1},{"s":"14.5mW","w":1529.9,"p":-61.9},{"s":"14.5mW","w":1531.0,"p":-62.4},{"s":"14.5mW","w":1532.5,"p":-61},{"s":"14.5mW","w":1533.8,"p":-58.5},{"s":"14.5mW","w":1534.5,"p":-56.8},{"s":"14.5mW","w":1534.9,"p":-47.5},{"s":"14.5mW","w":1535.4,"p":-54.3},{"s":"14.5mW","w":1536.5,"p":-53.3},{"s":"14.5mW","w":1538.0,"p":-51.3},{"s":"14.5mW","w":1539.5,"p":-49.3},{"s":"14.5mW","w":1540.7,"p":-46.8},{"s":"14.5mW","w":1541.4,"p":-41.9},{"s":"14.5mW","w":1541.9,"p":-32.6},{"s":"14.5mW","w":1542.4,"p":-41.5},{"s":"14.5mW","w":1543.5,"p":-40.2},{"s":"14.5mW","w":1545.0,"p":-38.9},{"s":"14.5mW","w":1547.0,"p":-36.8},{"s":"14.5mW","w":1548.9,"p":-35},{"s":"14.5mW","w":1549.5,"p":-34.5},{"s":"14.5mW","w":1551.0,"p":-32.4},{"s":"14.5mW","w":1553.0,"p":-30.8},{"s":"14.5mW","w":1555.0,"p":-30.4},{"s":"14.5mW","w":1557.0,"p":-31.05},{"s":"14.5mW","w":1559.0,"p":-32.55},{"s":"14.5mW","w":1561.0,"p":-34.5},{"s":"14.5mW","w":1563.0,"p":-36.8},{"s":"14.5mW","w":1565.0,"p":-39.9},{"s":"14.5mW","w":1567.0,"p":-43},{"s":"14.5mW","w":1567.9,"p":-42.3},{"s":"14.5mW","w":1568.6,"p":-36.9},{"s":"14.5mW","w":1569.2,"p":-46.9},{"s":"14.5mW","w":1570.5,"p":-50.4},{"s":"14.5mW","w":1572.0,"p":-52.5},{"s":"14.5mW","w":1574.0,"p":-54.3},{"s":"14.5mW","w":1575.5,"p":-55.6},{"s":"14.5mW","w":1576.1,"p":-52.6},{"s":"14.5mW","w":1576.7,"p":-60.4},{"s":"14.5mW","w":1578.0,"p":-61.9},{"s":"14.5mW","w":1580.0,"p":-62.8},{"s":"14.5mW","w":1582.0,"p":-65.2},{"s":"14.5mW","w":1582.9,"p":-63},{"s":"14.5mW","w":1583.4,"p":-69},
{"s":"14.5mW","w":1583.7,"p":-70},{"s":"14.5mW","w":1584.0,"p":-72},{"s":"14.5mW","w":1584.3,"p":-70.5},{"s":"14.5mW","w":1584.6,"p":-72.5},{"s":"14.5mW","w":1584.9,"p":-71},{"s":"14.5mW","w":1585.2,"p":-72},{"s":"14.5mW","w":1585.5,"p":-70.5},{"s":"14.5mW","w":1585.8,"p":-72.5},
{"s":"14.2mW","w":1519.2,"p":-70},{"s":"14.2mW","w":1519.5,"p":-75},{"s":"14.2mW","w":1519.8,"p":-70.5},{"s":"14.2mW","w":1520.1,"p":-75},{"s":"14.2mW","w":1520.4,"p":-69.5},{"s":"14.2mW","w":1520.7,"p":-75},{"s":"14.2mW","w":1521.0,"p":-70},{"s":"14.2mW","w":1521.3,"p":-75},{"s":"14.2mW","w":1521.6,"p":-69.5},{"s":"14.2mW","w":1521.9,"p":-75},{"s":"14.2mW","w":1522.2,"p":-70},{"s":"14.2mW","w":1522.5,"p":-75},{"s":"14.2mW","w":1522.8,"p":-69},{"s":"14.2mW","w":1523.1,"p":-75},{"s":"14.2mW","w":1523.4,"p":-69.5},{"s":"14.2mW","w":1523.7,"p":-74.5},{"s":"14.2mW","w":1524.0,"p":-69},{"s":"14.2mW","w":1524.3,"p":-75},{"s":"14.2mW","w":1524.6,"p":-68.5},{"s":"14.2mW","w":1524.9,"p":-74},{"s":"14.2mW","w":1525.2,"p":-69},{"s":"14.2mW","w":1525.5,"p":-74.5},{"s":"14.2mW","w":1525.8,"p":-68.5},{"s":"14.2mW","w":1526.1,"p":-73.5},{"s":"14.2mW","w":1526.4,"p":-68},{"s":"14.2mW","w":1526.7,"p":-70},
{"s":"14.2mW","w":1527.0,"p":-67.7},{"s":"14.2mW","w":1528.0,"p":-65.7},{"s":"14.2mW","w":1528.9,"p":-63.7},{"s":"14.2mW","w":1529.4,"p":-60.3},{"s":"14.2mW","w":1529.9,"p":-62.7},{"s":"14.2mW","w":1531.0,"p":-63.2},{"s":"14.2mW","w":1532.5,"p":-62},{"s":"14.2mW","w":1533.8,"p":-59.5},{"s":"14.2mW","w":1534.5,"p":-57.9},{"s":"14.2mW","w":1534.9,"p":-49},{"s":"14.2mW","w":1535.4,"p":-55.4},{"s":"14.2mW","w":1536.5,"p":-54.4},{"s":"14.2mW","w":1538.0,"p":-52.4},{"s":"14.2mW","w":1539.5,"p":-50.4},{"s":"14.2mW","w":1540.7,"p":-47.9},{"s":"14.2mW","w":1541.4,"p":-43.2},{"s":"14.2mW","w":1541.9,"p":-34.8},{"s":"14.2mW","w":1542.4,"p":-42.5},{"s":"14.2mW","w":1543.5,"p":-41.1},{"s":"14.2mW","w":1545.0,"p":-39.7},{"s":"14.2mW","w":1547.0,"p":-37.4},{"s":"14.2mW","w":1548.9,"p":-35.5},{"s":"14.2mW","w":1549.5,"p":-35},{"s":"14.2mW","w":1551.0,"p":-32.7},{"s":"14.2mW","w":1553.0,"p":-31},{"s":"14.2mW","w":1555.0,"p":-30.6},{"s":"14.2mW","w":1557.0,"p":-31.3},{"s":"14.2mW","w":1559.0,"p":-32.9},{"s":"14.2mW","w":1561.0,"p":-35},{"s":"14.2mW","w":1563.0,"p":-37.4},{"s":"14.2mW","w":1565.0,"p":-40.7},{"s":"14.2mW","w":1567.0,"p":-44},{"s":"14.2mW","w":1567.9,"p":-43.4},{"s":"14.2mW","w":1568.6,"p":-38.2},{"s":"14.2mW","w":1569.2,"p":-48.2},{"s":"14.2mW","w":1570.5,"p":-51.7},{"s":"14.2mW","w":1572.0,"p":-54},{"s":"14.2mW","w":1574.0,"p":-55.9},{"s":"14.2mW","w":1575.5,"p":-57.3},{"s":"14.2mW","w":1576.1,"p":-54.8},{"s":"14.2mW","w":1576.7,"p":-62.2},{"s":"14.2mW","w":1578.0,"p":-63.7},{"s":"14.2mW","w":1580.0,"p":-64.4},{"s":"14.2mW","w":1582.0,"p":-66.6},{"s":"14.2mW","w":1582.9,"p":-64.5},{"s":"14.2mW","w":1583.4,"p":-70},
{"s":"14.2mW","w":1583.7,"p":-71},{"s":"14.2mW","w":1583.9,"p":-75},{"s":"14.2mW","w":1584.1,"p":-70.5},{"s":"14.2mW","w":1584.3,"p":-75},{"s":"14.2mW","w":1584.5,"p":-71},{"s":"14.2mW","w":1584.7,"p":-75},{"s":"14.2mW","w":1584.9,"p":-70},{"s":"14.2mW","w":1585.1,"p":-75},{"s":"14.2mW","w":1585.3,"p":-70.5},{"s":"14.2mW","w":1585.5,"p":-75},{"s":"14.2mW","w":1585.7,"p":-71},{"s":"14.2mW","w":1585.9,"p":-75},{"s":"14.2mW","w":1586.1,"p":-70}
]
}
}
